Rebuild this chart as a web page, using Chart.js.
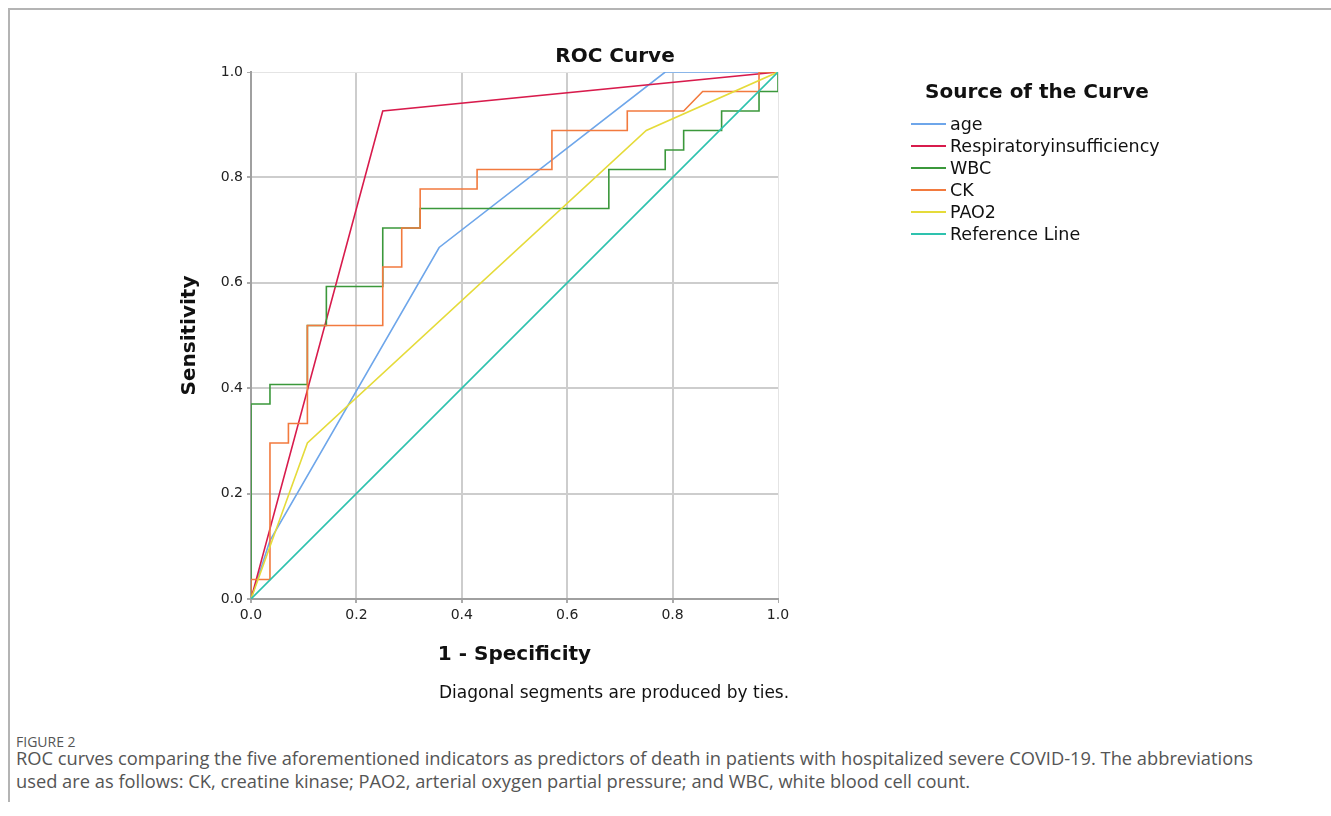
<!DOCTYPE html>
<html>
<head>
<meta charset="utf-8">
<script src="https://cdn.jsdelivr.net/npm/chart.js@4.4.0/dist/chart.umd.min.js"></script>
<style>
  body { margin: 0; background: #fff; width: 1331px; height: 816px; overflow: hidden; position: relative; }
  .frame { position: absolute; left: 8px; top: 8px; width: 1330px; height: 792px; border-left: 2px solid #b4b4b4; border-top: 2px solid #b4b4b4; }
  #roc { position: absolute; left: 0; top: 0; }
  .txt { position: absolute; font-family: "DejaVu Sans", sans-serif; color: #111; white-space: nowrap; }
  .title { left: 615px; top: 43px; transform: translateX(-50%); font-size: 20px; font-weight: bold; }
  .foot { left: 614px; top: 682px; transform: translateX(-50%); font-size: 17px; }
  .legend { left: 911px; top: 78px; }
  .legend h4 { margin: 0 0 9px 14px; font-size: 20px; font-weight: bold; line-height: 26px; }
  .legend .item { display: flex; align-items: center; height: 22px; font-size: 17.5px; }
  .legend .sw { width: 35px; height: 2px; margin-right: 4px; }
  .cap { position: absolute; left: 16px; font-family: "Open Sans", sans-serif; color: #555; white-space: nowrap; }
  .fig { top: 732px; font-size: 14px; }
  .body { top: 746px; font-size: 18.3px; line-height: 23px; }
</style>
</head>
<body>
<div class="frame"></div>
<canvas id="roc" width="1331" height="700"></canvas>
<div class="txt title">ROC Curve</div>
<div class="txt foot">Diagonal segments are produced by ties.</div>
<div class="txt legend" id="legend"><h4>Source of the Curve</h4></div>
<div class="cap fig">FIGURE 2</div>
<div class="cap body">ROC curves comparing the five aforementioned indicators as predictors of death in patients with hospitalized severe COVID-19. The abbreviations<br>used are as follows: CK, creatine kinase; PAO2, arterial oxygen partial pressure; and WBC, white blood cell count.</div>

<script>
// curve names and colours (legend order)
const names = ['age', 'Respiratoryinsufficiency', 'WBC', 'CK', 'PAO2', 'Reference Line'];
const colors = ['#6ea6ea', '#d81b4c', '#3b983b', '#f27a3e', '#e5db3a', '#2ec2ae'];

// 1 - specificity (x) and sensitivity (y)
const ageX = [0, 0.036, 0.357, 0.786, 1];
const ageY = [0, 0.111, 0.667, 1, 1];

const respX = [0, 0.25, 1];
const respY = [0, 0.926, 1];

const wbcX = [0, 0, 0.036, 0.036, 0.107, 0.107, 0.143, 0.143, 0.25, 0.25, 0.321, 0.321, 0.679, 0.679, 0.786, 0.786, 0.821, 0.821, 0.893, 0.893, 0.964, 0.964, 1, 1];
const wbcY = [0, 0.370, 0.370, 0.407, 0.407, 0.519, 0.519, 0.593, 0.593, 0.704, 0.704, 0.741, 0.741, 0.815, 0.815, 0.852, 0.852, 0.889, 0.889, 0.926, 0.926, 0.963, 0.963, 1];

const ckX = [0, 0, 0.036, 0.036, 0.071, 0.071, 0.107, 0.107, 0.25, 0.25, 0.286, 0.286, 0.321, 0.321, 0.429, 0.429, 0.571, 0.571, 0.714, 0.714, 0.821, 0.857, 0.964, 0.964, 1];
const ckY = [0, 0.037, 0.037, 0.296, 0.296, 0.333, 0.333, 0.519, 0.519, 0.630, 0.630, 0.704, 0.704, 0.778, 0.778, 0.815, 0.815, 0.889, 0.889, 0.926, 0.926, 0.963, 0.963, 1, 1];

const paoX = [0, 0.107, 0.75, 1];
const paoY = [0, 0.296, 0.889, 1];

const refX = [0, 1];
const refY = [0, 1];

const tickValues = [0, 0.2, 0.4, 0.6, 0.8, 1.0];

const seriesX = [ageX, respX, wbcX, ckX, paoX, refX];
const seriesY = [ageY, respY, wbcY, ckY, paoY, refY];

const datasets = names.map((n, i) => ({
  label: n,
  data: seriesX[i].map((x, j) => ({ x: x, y: seriesY[i][j] })),
  borderColor: colors[i],
  backgroundColor: colors[i],
  borderWidth: 1.6,
  pointRadius: 0,
  showLine: true,
  fill: false,
  tension: 0,
  order: names.length - i
}));

// html legend
const legend = document.getElementById('legend');
names.forEach((n, i) => {
  const row = document.createElement('div');
  row.className = 'item';
  row.innerHTML = '<span class="sw" style="background:' + colors[i] + '"></span>' + n;
  legend.appendChild(row);
});

const gridColor = ctx => (ctx.tick && ctx.tick.value === 1) ? '#e4e4e4' : '#cdcdcd';
const gridWidth = ctx => (ctx.tick && ctx.tick.value === 1) ? 1 : 2;

new Chart(document.getElementById('roc'), {
  type: 'scatter',
  data: { datasets: datasets },
  options: {
    responsive: false,
    devicePixelRatio: 1,
    animation: false,
    layout: { padding: { left: 178, top: 72, right: 553, bottom: 33 } },
    plugins: { legend: { display: false }, tooltip: { enabled: false } },
    scales: {
      x: {
        type: 'linear', min: 0, max: 1,
        afterBuildTicks: s => { s.ticks = tickValues.map(v => ({ value: v })); },
        afterFit: s => { s.height = 68; },
        ticks: { callback: v => v.toFixed(1), color: '#222', padding: 4, maxRotation: 0,
                 font: { family: 'DejaVu Sans', size: 14 } },
        grid: { color: gridColor, lineWidth: gridWidth, tickLength: 4, tickColor: '#aaa' },
        border: { color: '#a0a0a0', width: 2 },
        title: { display: true, text: '1 - Specificity', color: '#111', padding: 0,
                 font: { family: 'DejaVu Sans', size: 20, weight: 'bold' } }
      },
      y: {
        type: 'linear', min: 0, max: 1,
        afterBuildTicks: s => { s.ticks = tickValues.map(v => ({ value: v })); },
        afterFit: s => { s.width = 73; },
        ticks: { callback: v => v.toFixed(1), color: '#222', padding: 4,
                 font: { family: 'DejaVu Sans', size: 14 } },
        grid: { color: gridColor, lineWidth: gridWidth, tickLength: 4, tickColor: '#aaa' },
        border: { color: '#a0a0a0', width: 2 },
        title: { display: true, text: 'Sensitivity', color: '#111', padding: 0,
                 font: { family: 'DejaVu Sans', size: 20, weight: 'bold' } }
      }
    }
  }
});
</script>
</body>
</html>
